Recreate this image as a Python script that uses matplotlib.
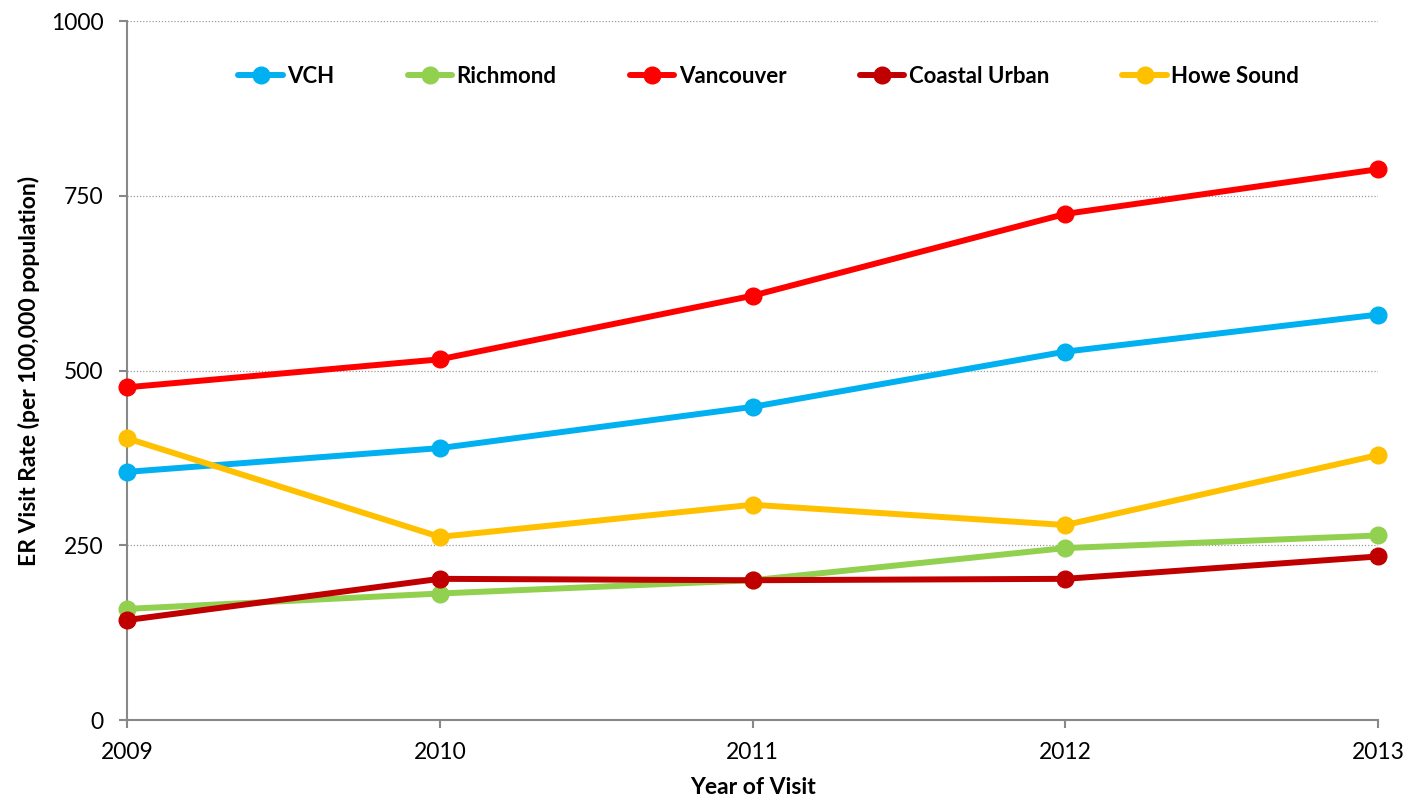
import matplotlib

matplotlib.use('Agg')

import matplotlib.pyplot as plt

years = [2009, 2010, 2011, 2012, 2013]
vch = [355, 389, 448, 527, 580]
richmond = [159, 181, 200, 246, 264]
vancouver = [476, 516, 607, 724, 788]
coastal_urban = [143, 202, 200, 202, 234]
howe_sound = [403, 262, 308, 279, 379]

series = [
    ('VCH', vch, '#00B0F0'),
    ('Richmond', richmond, '#92D050'),
    ('Vancouver', vancouver, '#FF0000'),
    ('Coastal Urban', coastal_urban, '#C00000'),
    ('Howe Sound', howe_sound, '#FFC000'),
]

plt.rcParams['font.family'] = ['Lato', 'DejaVu Sans']

fig = plt.figure(figsize=(14.07, 8.02), dpi=100)
ax = fig.add_axes([0.0903, 0.1022, 0.8891, 0.8716])

for name, vals, color in series:
    ax.plot(years, vals, color=color, lw=4.3, marker='o', markersize=12,
            label=name, solid_capstyle='round', clip_on=False, zorder=3)

ax.set_xlim(2009, 2013)
ax.set_ylim(0, 1000)
ax.set_xticks(years)
ax.set_yticks([0, 250, 500, 750, 1000])
ax.tick_params(axis='both', labelsize=16.5, color='#888888', length=6, width=1.5)
ax.tick_params(axis='y', pad=11)
ax.tick_params(axis='x', pad=10)
ax.grid(True, axis='y', ls=(0, (1, 1.5)), lw=0.9, color='#999999')
ax.set_axisbelow(True)
for side in ('top', 'right'):
    ax.spines[side].set_visible(False)
for side in ('left', 'bottom'):
    ax.spines[side].set_color('#888888')
    ax.spines[side].set_linewidth(1.5)

ax.set_xlabel('Year of Visit', fontsize=16.5, fontweight='bold', labelpad=10)
ax.set_ylabel('ER Visit Rate (per 100,000 population)', fontsize=16.5, fontweight='bold', labelpad=8)

leg = ax.legend(loc='center', bbox_to_anchor=(0.513, 0.921), ncol=5, frameon=False,
                prop={'size': 16, 'weight': 'bold'}, handlelength=2.0, handletextpad=0.2,
                columnspacing=3.3)

fig.savefig('out.png', dpi=100)
